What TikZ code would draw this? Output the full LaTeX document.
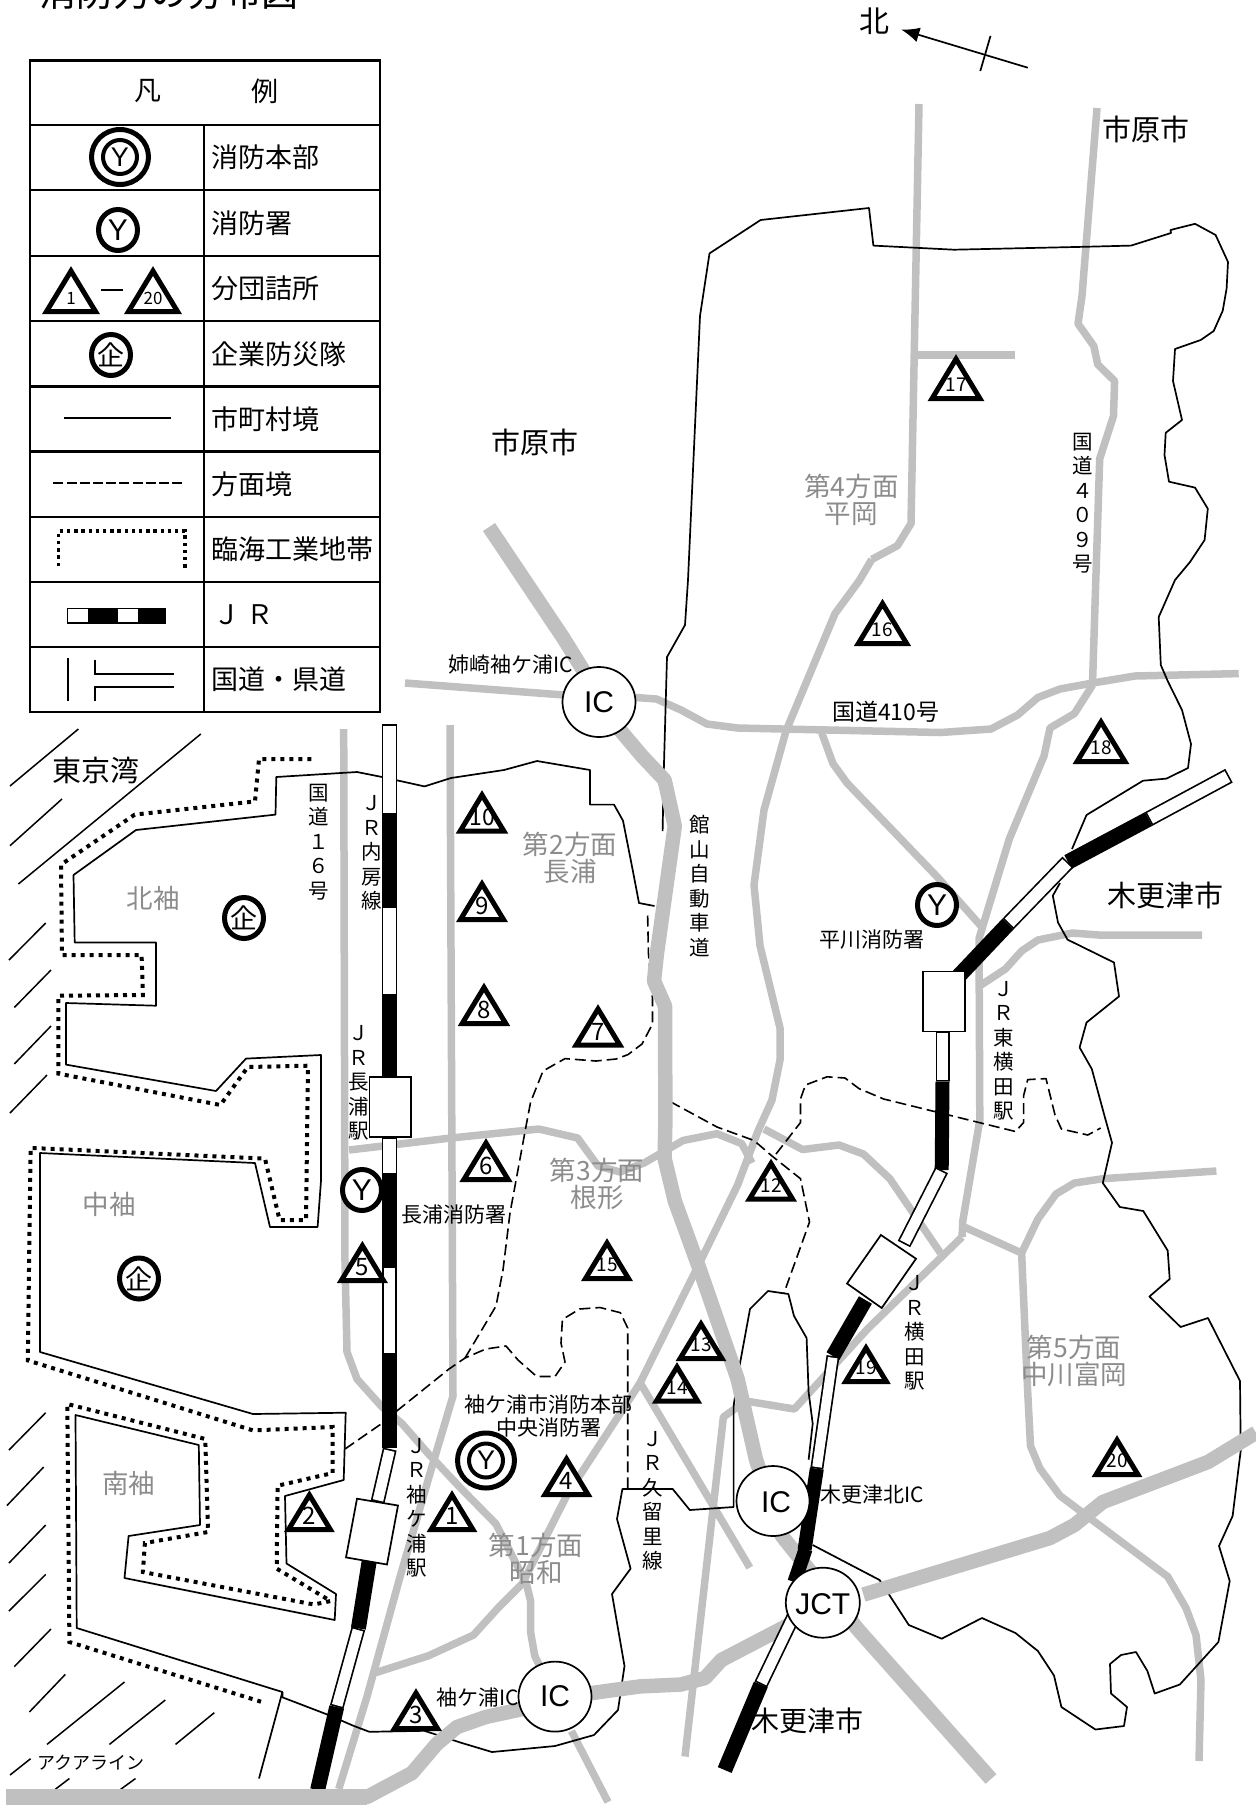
\documentclass[tikz,border=0pt]{standalone}
\usepackage{fontspec}
\setmainfont{Noto Sans CJK JP}
\setsansfont{Liberation Sans}
\usetikzlibrary{arrows.meta}
\definecolor{road}{HTML}{C0C0C0}
\definecolor{lab}{HTML}{8C8C8C}
\newcommand{\fz}[1]{\fontsize{#1}{#1}\selectfont}
\tikzset{
  thinroad/.style={draw=road,line width=7.5pt,line join=round},
  fatroad/.style={draw=road,line width=14.5pt,line join=round},
  bound/.style={draw=black,line width=1.7pt,line join=round},
  hatch/.style={draw=black,line width=1.5pt},
  divide/.style={draw=black,line width=1.6pt,dash pattern=on 11pt off 5pt,line join=round},
  dots/.style={draw=black,line width=4pt,dash pattern=on 4pt off 5pt},
  lbl/.style={inner sep=0pt,font=\fz{21}},
  area/.style={inner sep=0pt,text=lab,align=center,font=\fontsize{26.5}{27}\selectfont},
  city/.style={inner sep=0pt,font=\fz{29}},
  vt/.style={inner sep=0pt,align=center,font=\fontsize{20.5}{24.5}\selectfont},
  legtext/.style={inner sep=0pt,anchor=west,font=\fz{27}},
  stn/.style={draw=black,fill=white,line width=1.7pt},
  icc/.style={draw=black,fill=white,line width=1.7pt},
  icl/.style={inner sep=0pt,font=\sffamily\fz{30}},
}
\newcommand{\tri}[5]{%
  \pgfmathsetmacro{\hw}{(#3-#2)*0.6-4.3}%
  \draw[fill=white,line width=5pt,miter limit=10] ({#1},{#2+5}) -- ({#1+\hw},{#3-2.5}) -- ({#1-\hw},{#3-2.5}) -- cycle;
  \node[inner sep=0pt,font=#5] (tri#4) at ({#1},{#3-16}) {#4};}
\newcommand{\one}{\fz{24}}
\newcommand{\two}{\fz{23}}
\newcommand{\rw}[3]{% white rail section: from, to, width
  \draw[black,line width=#3pt] #1 -- #2;
  \draw[white,line width={#3-3.4pt},shorten >=1.7pt,shorten <=1.7pt] #1 -- #2;}
\newcommand{\rb}[3]{\draw[black,line width=#3pt] #1 -- #2;}
\newcommand{\ycirc}[3]{\draw[line width=5pt,fill=white] (#1,#2) circle[x radius=19.5,y radius=20.5];
  \node[inner sep=0pt,font=\sffamily\fz{30}] (y#3) at (#1,#2) {Y};}
\newcommand{\ydbl}[3]{\draw[line width=5pt,fill=white] (#1,#2) ellipse[x radius=28.5,y radius=27.5];
  \draw[line width=4pt] (#1,#2) circle[radius=17];
  \node[inner sep=0pt,font=\sffamily\fz{27}] (y#3) at (#1,#2) {Y};}
\newcommand{\kig}[3]{\draw[line width=5pt,fill=white] (#1,#2) circle[x radius=19.5,y radius=20.5];
  \node[inner sep=0pt,font=\fz{27}] (k#3) at (#1,#2) {企};}
\begin{document}
\begin{tikzpicture}[x=1pt,y=-1pt]
\useasboundingbox (0,0) rectangle (1256,1805);
% title, cut by the top edge as in the reference
\node[inner sep=0pt,font=\fz{37}] (title) at (169,-7) {消防力の分布図};
% ---------- legend
\draw[line width=2.7pt] (30,60.5) rectangle (380,712);
\foreach \yy in {125,190,256,321,386.5,451.6,517,582,647}{\draw[line width=2.7pt] (30,\yy) -- (380,\yy);}
\draw[line width=2.7pt] (204,125) -- (204,712);
\node[inner sep=0pt,font=\fz{27}] (lh1) at (148,91) {凡};
\node[inner sep=0pt,font=\fz{27}] (lh2) at (265,91) {例};
\node[legtext] (l1) at (211,157) {消防本部};
\node[legtext] (l2) at (211,223) {消防署};
\node[legtext] (l3) at (211,288) {分団詰所};
\node[legtext] (l4) at (211,354) {企業防災隊};
\node[legtext] (l5) at (211,419) {市町村境};
\node[legtext] (l6) at (211,484) {方面境};
\node[legtext] (l7) at (211,549) {臨海工業地帯};
\node[legtext] (l8) at (213,615) {Ｊ Ｒ};
\node[legtext] (l9) at (211,679.5) {国道・県道};
\ydbl{120}{157}{a}
\ycirc{118}{230}{b}
\tri{71}{266}{314}{1}{\fz{17}}
\draw[line width=2pt] (101,290) -- (123,290);
\tri{153}{266}{314}{20}{\fz{17}}
\kig{111}{355}{a}
\draw[line width=2pt] (64,417.6) -- (170.7,417.6);
\draw[line width=1.5pt,dash pattern=on 10pt off 3.2pt] (53.3,482.8) -- (184,482.8);
\draw[line width=3.4pt,dash pattern=on 3.4pt off 3.8pt] (58.7,566) -- (58.7,531) -- (185,531) -- (185,569);
\rw{(66.7,615.8)}{(90,615.8)}{16.5}
\rb{(90,615.8)}{(116,615.8)}{16.5}
\rw{(116,615.8)}{(139.3,615.8)}{16.5}
\rb{(139.3,615.8)}{(165.7,615.8)}{16.5}
\draw[line width=2pt] (67.7,658) -- (67.7,700.6);
\draw[line width=2pt] (95,659.7) -- (95,673.6) -- (174,673.6);
\draw[line width=2pt] (95,700.6) -- (95,686.7) -- (174,686.7);
% ---------- north arrow
\node[inner sep=0pt,font=\fz{30}] (north) at (874.6,21.5) {北};
\coordinate (nt) at (1027.8,67.7);
\coordinate (nh) at (901.3,29.6);
\draw[line width=1.7pt,-{Latex[length=18pt,width=15pt]}] (nt) -- (nh);
\draw[line width=1.7pt] (990.5,35.9) -- (980.3,71);
% ---------- hatching
\draw[hatch] (10,786)--(78.4,729) (10,845.7)--(62,799) (18.4,884)--(200.8,734) (9,960)--(45.7,923) (14.3,1007.5)--(51,970) (14.3,1064)--(51,1026) (10,1113)--(47,1075);
\draw[hatch] (9,1450)--(45.7,1412.7) (7,1505.5)--(43.7,1467) (9,1563)--(45.7,1525) (9,1611)--(45.7,1574.4) (14.3,1666.6)--(51,1629) (29.4,1712)--(65.3,1674.4) (47,1744.4)--(124.5,1682) (109.4,1744.4)--(165.3,1700) (175.5,1744.4)--(214.3,1712.7) (10,1775)--(30.6,1758.7) (55,1789.5)--(69.4,1778.5) (120.4,1789.5)--(135.5,1778.5);
% ---------- thin roads
\draw[thinroad] (343.7,729) -- (345,1263) -- (347,1352) -- (357,1379) -- (381.6,1406.5) -- (402,1423.6) -- (428.6,1454) -- (461,1488.4) -- (496,1524) -- (526.5,1584) -- (530.6,1601) -- (530.6,1632) -- (534.7,1655.7) -- (543,1673);
\draw[thinroad] (571.4,1731) -- (608,1802);
\draw[thinroad] (450,725) -- (453,1396) -- (432.6,1464.5) -- (400,1577) -- (367,1696.6) -- (338.8,1789);
\draw[thinroad] (349,1150) -- (451,1138) -- (538.8,1129) -- (577.6,1138) -- (598,1166) -- (620,1172) -- (644,1163) -- (683,1140.5) -- (717,1133.7) -- (741.7,1143.6) -- (752,1163);
\draw[thinroad] (871.8,559.4) -- (859,581) -- (835,613.6) -- (786,731) -- (764,810) -- (754,885) -- (760,945.7) -- (780,1028) -- (780,1060) -- (772,1100) -- (758,1131) -- (737.6,1185) -- (701,1260) -- (640,1383) -- (567,1495) -- (522,1584) -- (498,1608) -- (473.5,1635) -- (428.6,1655.7) -- (375.5,1672.7);
\draw[thinroad] (640.3,1383) -- (749.8,1567.6);
\draw[thinroad] (764,1129) -- (802.6,1149.5) -- (839,1145) -- (863.4,1154) -- (889.8,1178.7) -- (940.5,1253);
\draw[thinroad] (962,1237) -- (867.5,1329) -- (794.4,1409) -- (745.8,1401) -- (723.4,1417) -- (685,1756.5);
\draw[thinroad] (1092.6,685) -- (1074.4,713.6) -- (1050,728) -- (1044,756) -- (1009.4,838.6) -- (979,938.6) -- (979.8,1120) -- (962.8,1221) -- (962,1237);
\draw[thinroad] (1097,108) -- (1082,296) -- (1078,323.7) -- (1093.8,346) -- (1097.7,364.4) -- (1114.6,381) -- (1113.5,416) -- (1099.7,458.7) -- (1095.8,580) -- (1092.6,681);
\draw[thinroad] (919,104) -- (911,523.5) -- (897.4,545.7) -- (871.8,559.4);
\draw[thinroad] (917,355) -- (1015,355);
\draw[thinroad] (405,683) -- (564,695);
\draw[thinroad] (636,697.5) -- (656.5,699) -- (681,710) -- (707,724) -- (737.6,728) -- (940.5,732.5) -- (991,729) -- (1017.6,715) -- (1037.9,697.5) -- (1060,689) -- (1092.6,683) -- (1135,676) -- (1238.7,673.6);
\draw[thinroad] (821.6,732.5) -- (833,763.6) -- (847,783) -- (936.4,876) -- (981,926);
\draw[thinroad] (981,985) -- (1005.4,969) -- (1021.6,951) -- (1037.9,940) -- (1072.3,933) -- (1098.7,935) -- (1202,935);
\draw[thinroad] (962,1226) -- (1021.6,1253) -- (1037.9,1219) -- (1056,1194) -- (1074.4,1183) -- (1102.8,1178.7) -- (1216.4,1171);
\draw[thinroad] (1021.6,1253) -- (1027.7,1392) -- (1030.5,1446) -- (1040,1468.7) -- (1060,1495.7) -- (1167.7,1576.6) -- (1186,1608) -- (1196,1635) -- (1201,1680) -- (1199,1761);
% ---------- boundaries
\draw[bound] (282.4,1692) -- (259,1778.5);
\draw[bound] (654.5,906) -- (639,903) -- (632.7,870) -- (623,820.7) -- (614,804.6) -- (590,804.6) -- (590,770) -- (537,761) -- (504,770) -- (451,778) -- (424.5,786.4) -- (382,777) -- (357,772) -- (276.3,777) -- (275.5,814.6) -- (136,830) -- (73.5,875) -- (74.7,942.5) -- (156,942.5) -- (156,1005.7) -- (66,1003) -- (66,1064.6) -- (216,1091) -- (246,1058.6) -- (321,1055) -- (321,1180.7) -- (317.6,1227) -- (270,1227) -- (255,1163) -- (40,1153) -- (40,1352) -- (253,1414) -- (345.7,1412.7) -- (343.7,1480) -- (285,1496) -- (286.5,1563.5) -- (336,1594) -- (334.7,1620) -- (124.5,1578) -- (128.6,1536) -- (200,1525) -- (198.8,1445) -- (75.5,1415) -- (76.7,1628) -- (282.4,1692) -- (282.4,1697.3) -- (328.6,1715) -- (353,1725.6) -- (369.4,1731.8) -- (424.5,1730.8) -- (461,1742.7) -- (492,1752) -- (555,1746) -- (594,1735) -- (618,1710) -- (624.5,1666) -- (612,1594) -- (630.6,1568.6) -- (617,1519) -- (622.4,1489) -- (672.7,1489) -- (689.8,1510) -- (733.6,1507) -- (733.6,1406) -- (739.7,1365) -- (750,1309) -- (768,1291) -- (788.4,1294) -- (794,1316) -- (806.6,1338) -- (808.6,1392) -- (812.7,1423.7) -- (808.6,1459.7);
\draw[bound] (812.7,1545) -- (879.6,1580) -- (908.8,1625) -- (941.7,1638.7) -- (981.9,1618) -- (1015.5,1633) -- (1037.9,1651) -- (1054,1675.5) -- (1061.4,1707) -- (1095.4,1729.5) -- (1124,1726) -- (1127,1707) -- (1111,1693.5) -- (1110,1664) -- (1121,1655) -- (1136,1652) -- (1147.4,1671) -- (1154.7,1693.5) -- (1179.8,1684.5) -- (1218.4,1642) -- (1229.7,1581) -- (1219,1546) -- (1232.6,1516) -- (1240.7,1450.7) -- (1240,1381) -- (1208,1318) -- (1180.6,1327) -- (1149.4,1296.5) -- (1169.7,1279) -- (1167.7,1250.6) -- (1143.3,1211) -- (1119.8,1207) -- (1102.8,1183) -- (1112,1142.7) -- (1104.8,1117) -- (1091.8,1069) -- (1079.6,1047.5) -- (1086.5,1022.5) -- (1119,996.4) -- (1114,962.5) -- (1067.5,939.6) -- (1058,922.5) -- (1052.8,895.7) -- (1060,883);
\draw[bound] (1072,849) -- (1086.5,815) -- (1143,780.7) -- (1166.4,778.6) -- (1188,768) -- (1191,744) -- (1182,710) -- (1167.7,681) -- (1160.8,665) -- (1158.7,617) -- (1175,580) -- (1190,562) -- (1204.6,540) -- (1207.8,508.7) -- (1195,487.6) -- (1169,481.7) -- (1164.5,455) -- (1165.7,432.8) -- (1182,420) -- (1173,381) -- (1175,349) -- (1200.7,340) -- (1213.7,331) -- (1222.7,310.8) -- (1226.6,288.6) -- (1228,262) -- (1215.6,235) -- (1195,223.8) -- (1170.5,230) -- (1171,233) -- (1131,245.6) -- (1084,246.8) -- (954,249.7) -- (873.4,245.6) -- (869,208) -- (760.6,220) -- (709.5,253.4) -- (700,316) -- (688,580) -- (685,625) -- (667,657) -- (663.8,770.7) -- (662.6,831);
% ---------- area divisions
\draw[divide] (345,1449) -- (381.6,1423.6) -- (398,1410) -- (449,1369) -- (465,1358) -- (485.7,1349) -- (506,1346) -- (518,1360) -- (536.7,1376.5) -- (555,1376.5) -- (565,1362) -- (561,1343) -- (562.4,1319.5) -- (579.6,1309) -- (600,1307.5) -- (620.4,1312.7) -- (627.7,1328) -- (627.7,1488.4);
\draw[divide] (465,1358) -- (496,1306) -- (503,1270) -- (510,1213) -- (526.5,1123.6) -- (530.6,1102) -- (543,1071) -- (565,1058.6) -- (596,1061) -- (616,1059) -- (628,1054.6) -- (642,1044) -- (652.5,1024) -- (652.5,999) -- (648.4,953) -- (647.6,913.6);
\draw[divide] (652.5,978) -- (664.6,1020.7) -- (665.4,1099) -- (717,1127) -- (754,1140.5) -- (772,1156) -- (800.5,1178.7) -- (809.5,1222) -- (784,1293);
\draw[divide] (776,1154) -- (800.5,1122.5) -- (800.5,1099) -- (805.4,1085) -- (827,1076.8) -- (845,1078) -- (859,1088.6) -- (883.7,1099) -- (936.4,1112) -- (1015.5,1131.5) -- (1023.6,1122.5) -- (1023.6,1095.7) -- (1027.7,1079.6) -- (1046,1078.6) -- (1055,1115) -- (1061.4,1129) -- (1087.8,1135) -- (1100.7,1128);
% ---------- industrial belt
\draw[dots] (311.4,759) -- (259,759) -- (255,801.4) -- (134.7,814.6) -- (61,864.6) -- (62,955) -- (141.6,955) -- (142.9,995) -- (58.4,995.7) -- (58.4,1073.6) -- (220.4,1105) -- (247.8,1067) -- (308,1065.7) -- (306,1220) -- (279.6,1220) -- (265,1158.6) -- (30.6,1147.9) -- (27.8,1360.4) -- (253,1430.4) -- (332.7,1427) -- (332.7,1473) -- (277.6,1485.7) -- (276.7,1568.6) -- (330.6,1601) -- (314,1604.5) -- (142.9,1572) -- (144.9,1543) -- (208,1532) -- (205.3,1439) -- (67.3,1404) -- (69.4,1642) -- (261,1701.7);
% ---------- fat roads
\draw[fatroad] (489,527) -- (564,639) -- (620,730) -- (642,756) -- (664.6,780) -- (674.8,826) -- (657,953) -- (654,981) -- (665,1006) -- (665.4,1120) -- (664.6,1158.5) -- (674.8,1201) -- (701,1273) -- (737.6,1379) -- (756,1459.7) -- (782,1536) -- (810.7,1572) -- (859,1630.6) -- (991,1779);
\draw[fatroad] (863.4,1594.6) -- (1050,1538) -- (1074.4,1525) -- (1102.8,1502) -- (1208,1462) -- (1256,1432.7);
\draw[fatroad] (790.4,1624) -- (721.4,1660) -- (705,1678) -- (680.9,1684.5) -- (640,1686.4) -- (592,1693) -- (518,1710) -- (485.7,1717) -- (457,1727) -- (436.7,1744) -- (412,1773) -- (367,1797) -- (340,1797);
% ---------- JR Uchibo line
\rw{(389.5,724.3)}{(389.5,814.6)}{15.5}
\rb{(389.5,814.6)}{(389.5,906.4)}{15.5}
\rw{(389.5,906.4)}{(389.5,996)}{15.5}
\rb{(389.5,996)}{(389.5,1080)}{15.5}
\rw{(389.5,1137)}{(389.5,1175)}{15.5}
\rb{(389.5,1175)}{(389.5,1266)}{15.5}
\rw{(389.5,1266)}{(389.5,1355)}{15}
\rb{(389.5,1355)}{(389.5,1448)}{15}
\rw{(389.8,1449)}{(377.6,1502)}{14}
\rb{(369.4,1560)}{(358.4,1628.4)}{15}
\rw{(358.4,1628.4)}{(336.7,1707)}{14}
\rb{(336.7,1707)}{(317.6,1790)}{15}
\draw[stn] (369.4,1077) rectangle (411,1137);
\draw[stn] (357,1498.7) -- (398,1505.5) -- (387,1564.5) -- (346,1557.4) -- cycle;
% ---------- JR east line
\rw{(1229,775.7)}{(1148.6,819)}{15.5}
\rb{(1148.6,819)}{(1068,862)}{15.5}
\rw{(1068,862)}{(1008,924)}{15.5}
\rb{(1008,924)}{(958.7,976)}{15.5}
\rw{(942.5,1031)}{(942.5,1081.4)}{14}
\rb{(942.5,1081.4)}{(941.7,1170)}{14}
\rw{(941.7,1170)}{(904,1244)}{14}
\rb{(865.4,1300)}{(833,1356)}{15}
\rw{(833,1356)}{(816.8,1468.7)}{13}
\rb{(816.8,1468.7)}{(804.6,1549.6)}{14}
\rb{(805.6,1549)}{(794.4,1582)}{14}
\rw{(800,1603)}{(760.8,1684.5)}{14}
\rb{(760.8,1684.5)}{(724.7,1770)}{15}
\draw[stn] (923,971.4) rectangle (965,1031.4);
\draw[stn] (880.9,1235) -- (916,1258.7) -- (881.7,1308) -- (847,1283.5) -- cycle;
% bottom band over rails
\draw[draw=road,line width=16pt] (6,1797) -- (367,1797);
% ---------- interchanges
\draw[icc] (599,702) ellipse[x radius=36.5,y radius=35];
\node[icl] (ic1) at (599,702) {IC};
\draw[icc] (773,1501) ellipse[x radius=36.5,y radius=35];
\node[icl] (ic2) at (776,1502) {IC};
\draw[icc] (555,1696.6) ellipse[x radius=36.5,y radius=35];
\node[icl] (ic3) at (555,1696.6) {IC};
\draw[icc] (822.8,1602.7) ellipse[x radius=37,y radius=35];
\node[icl] (jct) at (822.8,1604) {JCT};
% ---------- triangles
\tri{482}{790}{833.6}{10}{\two}
\tri{482}{879}{922}{9}{\one}
\tri{484}{982.5}{1026}{8}{\one}
\tri{598}{1004}{1047.5}{7}{\one}
\tri{486}{1138}{1182}{6}{\one}
\tri{362.4}{1240.7}{1283}{5}{\one}
\tri{607}{1238}{1281}{15}{\fz{19}}
\tri{309.4}{1490}{1532}{2}{\one}
\tri{452}{1490}{1532}{1}{\one}
\tri{566.5}{1454}{1497}{4}{\one}
\tri{416}{1688}{1731}{3}{\one}
\tri{771}{1158.5}{1201.6}{12}{\fz{19}}
\tri{701}{1319}{1361}{13}{\fz{19}}
\tri{677}{1362}{1403.5}{14}{\fz{19}}
\tri{866}{1343}{1384}{19}{\fz{19}}
\tri{1117}{1435}{1477}{20}{\fz{19}}
\tri{882.5}{598.6}{646}{16}{\fz{19}}
\tri{1101}{717}{764}{18}{\fz{19}}
\tri{956}{354}{401}{17}{\fz{19}}
% ---------- stations / companies
\ycirc{362}{1190}{c}
\ycirc{937}{905}{d}
\ydbl{486}{1460.5}{e}
\kig{244}{918}{b}
\kig{139}{1278.5}{c}
% ---------- labels
\node[vt] (v1) at (319,842) {国\\道\\１\\６\\号};
\node[vt] (v2) at (372,853) {Ｊ\\Ｒ\\内\\房\\線};
\node[vt] (v3) at (359,1083) {Ｊ\\Ｒ\\長\\浦\\駅};
\node[vt] (v4) at (417,1508) {Ｊ\\Ｒ\\袖\\ケ\\浦\\駅};
\node[vt] (v5) at (700,886) {館\\山\\自\\動\\車\\道};
\node[vt] (v6) at (1003.4,1051) {Ｊ\\Ｒ\\東\\横\\田\\駅};
\node[vt] (v7) at (915,1333) {Ｊ\\Ｒ\\横\\田\\駅};
\node[vt] (v8) at (652.5,1501) {Ｊ\\Ｒ\\久\\留\\里\\線};
\node[vt] (v9) at (1083,503) {国\\道\\４\\０\\９\\号};
\node[city] (c1) at (96,770) {東京湾};
\node[city] (c2) at (1145.7,129.5) {市原市};
\node[city] (c3) at (535,442) {市原市};
\node[city] (c4) at (1165.6,895) {木更津市};
\node[city,font=\fz{28}] (c5) at (807.8,1720.5) {木更津市};
\node[area] (a1) at (153,898) {北袖};
\node[area] (a2) at (109,1204) {中袖};
\node[area] (a3) at (128.6,1483) {南袖};
\node[area] (a4) at (570,857.5) {第2方面\\長浦};
\node[area] (a5) at (597,1184) {第3方面\\根形};
\node[area] (a6) at (536,1558.5) {第1方面\\昭和};
\node[area] (a7) at (851.4,500) {第4方面\\平岡};
\node[area] (a8) at (1074,1360.5) {第5方面\\中川富岡};
\node[lbl] (t1) at (454,1214.6) {長浦消防署};
\node[lbl] (t2) at (548,1404) {袖ケ浦市消防本部};
\node[lbl] (t3) at (549,1427.7) {中央消防署};
\node[lbl] (t4) at (477.6,1697) {袖ケ浦IC};
\node[lbl,font=\fz{18}] (t5) at (90.6,1763) {アクアライン};
\node[lbl,font=\fz{23}] (t6) at (885.7,712) {国道410号};
\node[lbl] (t7) at (511,664) {姉崎袖ケ浦IC};
\node[lbl] (t8) at (872.3,940) {平川消防署};
\node[lbl] (t9) at (872.3,1494.8) {木更津北IC};
\end{tikzpicture}
\end{document}
